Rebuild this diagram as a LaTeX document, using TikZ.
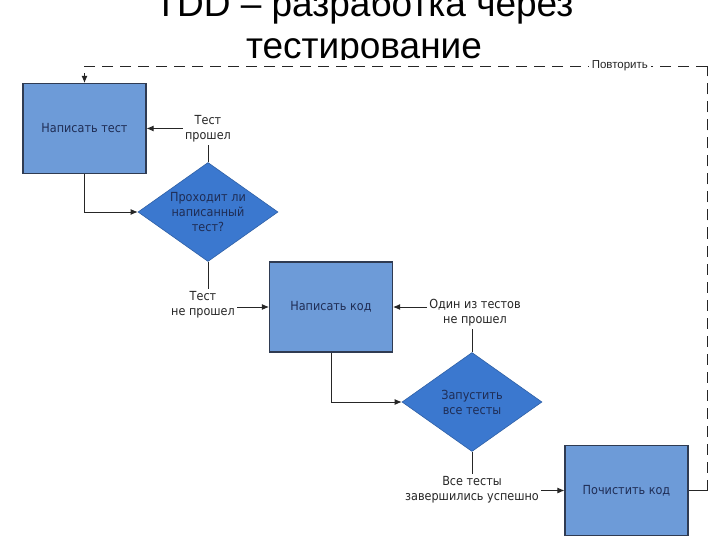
\documentclass[tikz,border=0pt]{standalone}
\usepackage{fontspec}
\setmainfont{Liberation Sans}
\newfontfamily\tahfont{DejaVu Sans Condensed}
\usepackage{tikz}
\usetikzlibrary{shapes.geometric,arrows.meta}
\definecolor{boxblue}{HTML}{6D9BD8}
\definecolor{dmblue}{HTML}{3B78CF}
\definecolor{boxline}{HTML}{2F3B52}
\definecolor{navy}{HTML}{1F2D55}

\begin{document}
\begin{tikzpicture}[x=1pt,y=-1pt,>={Latex[length=7pt,width=6pt]},
	every node/.style={inner sep=2pt},
	box/.style={rectangle,draw=boxline,line width=1.1pt,fill=boxblue,minimum width=123pt,minimum height=90pt,font=\tahfont\fontsize{12.5}{15}\selectfont,text=navy},
	decision/.style={diamond,draw=dmblue!80!black,line width=0.6pt,fill=dmblue,minimum width=140pt,minimum height=99pt,inner sep=0pt,aspect=1.41,align=center,font=\tahfont\fontsize{12.5}{15}\selectfont,text=navy},
	lbl/.style={align=center,font=\tahfont\fontsize{12.5}{15}\selectfont,text=black!85},
	flow/.style={line width=0.9pt,draw=black!85}]
    \useasboundingbox (0,0) rectangle (720,540);
    \begin{scope}
    \clip (0,0) rectangle (720,60);
    \node[anchor=base,align=center,inner sep=0pt,font=\fontsize{37}{42}\selectfont] (ttl) at (364,59) {TDD – разработка через\\тестирование};
    \end{scope}
    \node[box] (wt) at (84.5,128.5) {Написать тест};
    \node[decision] (dm1) at (208,212) {Проходит ли\\написанный\\тест?};
    \node[lbl] (pass) at (208,129) {Тест\\прошел};
    \node[lbl] (fail) at (203,305) {Тест\\не прошел};
    \node[box] (wc) at (331,307) {Написать код};
    \node[lbl] (onefail) at (475,313) {Один из тестов\\не прошел};
    \node[decision] (run) at (472,402) {Запустить\\все тесты};
    \node[lbl] (allok) at (472,490) {Все тесты\\завершились успешно};
    \node[box] (cc) at (626.5,490.5) {Почистить код};
    \coordinate (ret) at (707,490.5);
    \coordinate (tr) at (707,66);
    \draw[flow,->] (pass.west |- wt.east) -- (wt.east);
    \draw[flow] (dm1.north) -- (pass.south);
    \draw[flow,->] (wt.south) |- (dm1.west);
    \draw[flow] (dm1.south) -- (dm1.south |- fail.north);
    \draw[flow,->] (fail.east |- wc.west) -- (wc.west);
    \draw[flow,->] (onefail.west |- wc.east) -- (wc.east);
    \draw[flow] (run.north) -- (onefail.south -| run.north);
    \draw[flow,->] (wc.south) |- (run.west);
    \draw[flow] (run.south) -- (allok.north);
    \draw[flow,->] (allok.east |- cc.west) -- (cc.west);
    \draw[flow] (cc.east) -- (ret);
    \draw[flow,dashed,dash pattern=on 11pt off 7pt] (ret) -- (tr);
    \draw[flow,->,dash pattern=on 11pt off 7pt] (tr) -| node[pos=0.07,fill=white,inner sep=3pt,font=\fontsize{11.5}{13}\selectfont,text=black!85] (rep) {Повторить} (wt.north);
\end{tikzpicture}
\end{document}
